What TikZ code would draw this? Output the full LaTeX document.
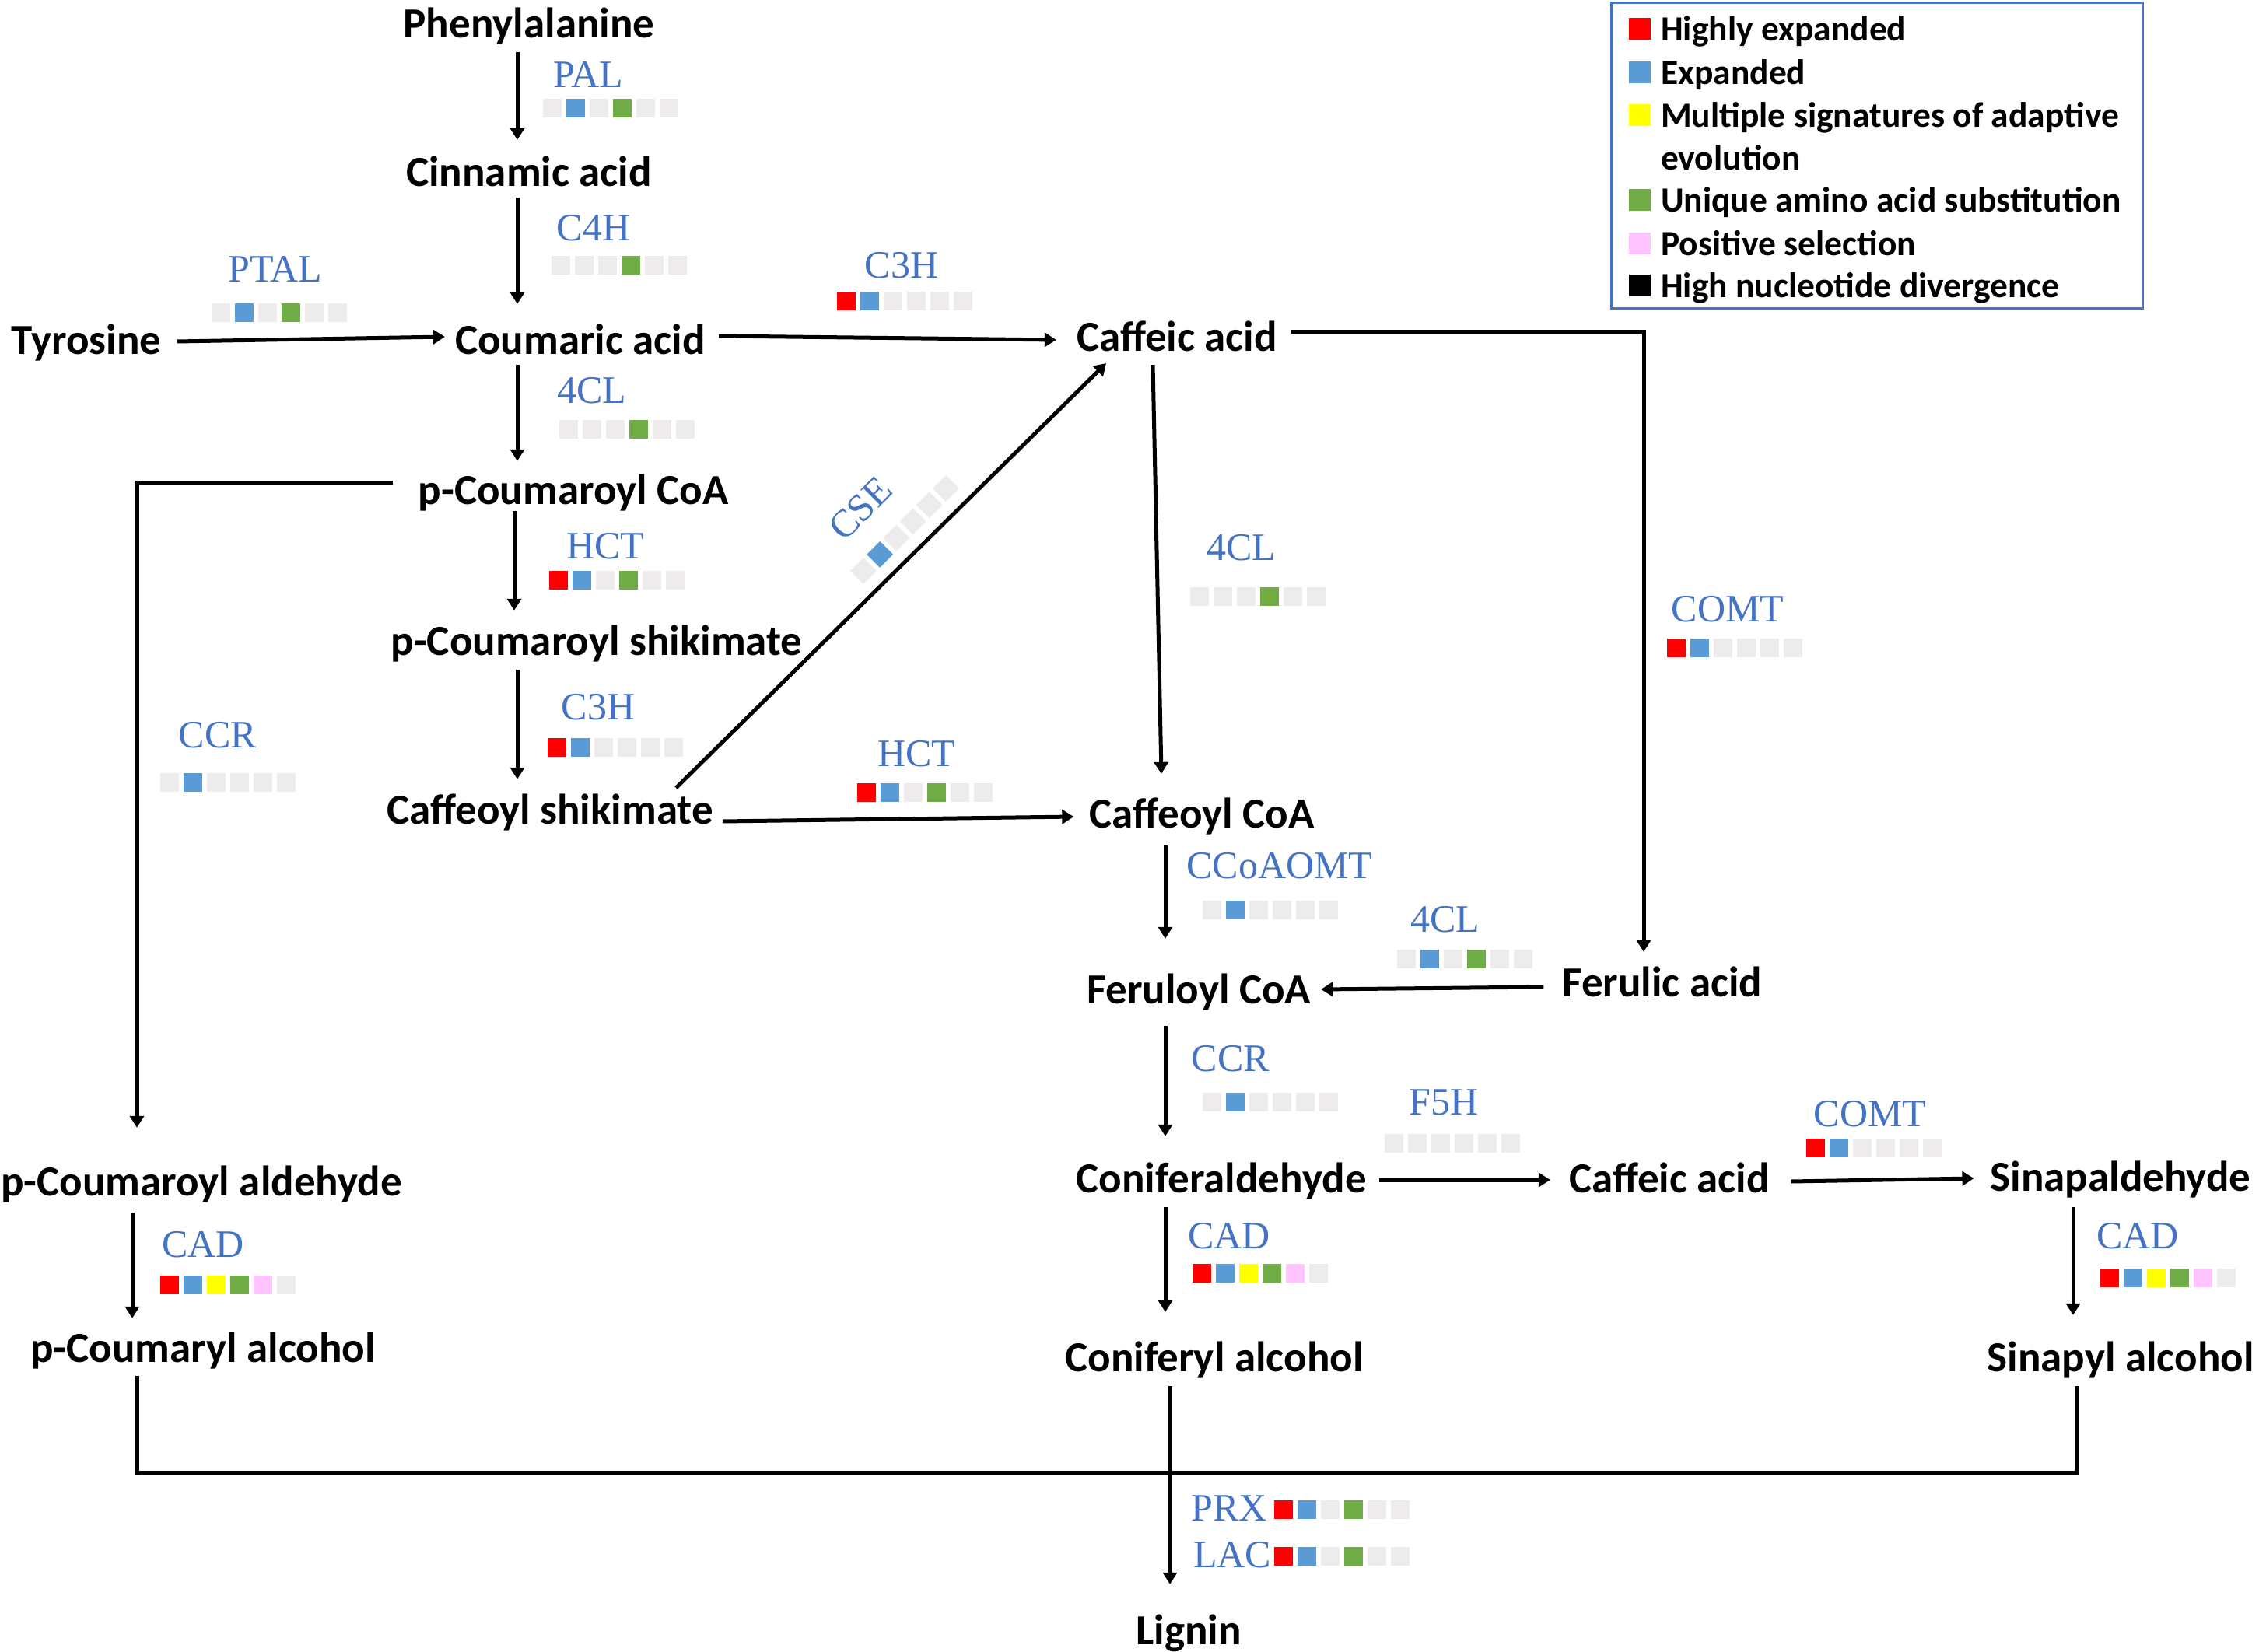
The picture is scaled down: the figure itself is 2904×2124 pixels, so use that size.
\documentclass[tikz,border=0pt]{standalone}
\usepackage{fontspec}
\setmainfont{Carlito}
\newfontfamily\enzfont{Liberation Serif}
\usetikzlibrary{arrows.meta}
\definecolor{cR}{HTML}{FF0000}
\definecolor{cB}{HTML}{5B9BD5}
\definecolor{cY}{HTML}{FFFF00}
\definecolor{cG}{HTML}{70AD47}
\definecolor{cP}{HTML}{FFC3FF}
\definecolor{cE}{HTML}{EDEBEB}
\definecolor{enzblue}{HTML}{4472C4}
\newcommand\brow[4][0]{\begin{scope}[shift={(#2,#3)},rotate=#1]\foreach \c [count=\i from 0] in {#4}{\fill[\c] (\i*30,-12) rectangle ++(24,24);}\end{scope}}
\tikzset{
 chem/.style={font=\fontsize{55}{60}\selectfont\bfseries, inner sep=0pt, text height=36pt, text depth=0pt},
 enz/.style={font=\enzfont\fontsize{50}{55}\selectfont, text=enzblue, inner sep=0pt},
 legtxt/.style={font=\fontsize{45.5}{50}\selectfont\bfseries, inner sep=0pt, text height=31pt, text depth=0pt, anchor=west},
 arr/.style={line width=5pt, -{Triangle[length=15pt,width=18pt]}},
 conn/.style={line width=5pt}
}
\begin{document}
\begin{tikzpicture}[x=1pt,y=-1pt]
\fill[white] (0,0) rectangle (2904,2124);
\useasboundingbox (0,0) rectangle (2904,2124);
% compounds
\node[chem] (phe) at (680,31) {Phenylalanine};
\node[chem] (cin) at (680,222) {Cinnamic acid};
\node[chem] (tyr) at (111,437) {Tyrosine};
\node[chem] (cou) at (746,437) {Coumaric acid};
\node[chem] (caf1) at (1513,433) {Caffeic acid};
\node[chem] (pcc) at (737,630) {p-Coumaroyl CoA};
\node[chem] (pcs) at (767,824) {p-Coumaroyl shikimate};
\node[chem] (cfs) at (707,1041) {Caffeoyl shikimate};
\node[chem] (cfc) at (1545,1046) {Caffeoyl CoA};
\node[chem] (fco) at (1541,1272) {Feruloyl CoA};
\node[chem] (fer) at (2137,1263) {Ferulic acid};
\node[chem] (pca) at (259,1519) {p-Coumaroyl aldehyde};
\node[chem] (con) at (1570,1515) {Coniferaldehyde};
\node[chem] (caf2) at (2146,1515) {Caffeic acid};
\node[chem] (sin) at (2726,1513) {Sinapaldehyde};
\node[chem] (pcal) at (261,1733) {p-Coumaryl alcohol};
\node[chem] (coal) at (1561,1745) {Coniferyl alcohol};
\node[chem] (sial) at (2726,1745) {Sinapyl alcohol};
\node[chem] (lig) at (1528,2096) {Lignin};
% arrows
\draw[arr] ([xshift=-15pt,yshift=-18pt]phe.south) -- ([xshift=-15pt,yshift=24pt]cin.north);
\draw[arr] ([xshift=-15pt,yshift=-14pt]cin.south) -- ([xshift=-81pt,yshift=28pt]cou.north);
\draw[arr] ([xshift=20pt,yshift=-2pt]tyr.east) -- ([xshift=-13pt,yshift=4pt]cou.west);
\draw[arr] ([xshift=17pt,yshift=5pt]cou.east) -- ([xshift=-26pt,yshift=-4pt]caf1.west);
\draw[arr] ([xshift=-81pt,yshift=-14pt]cou.south) -- ([xshift=-72pt,yshift=19pt]pcc.north);
\draw[arr] ([xshift=-76pt,yshift=-9pt]pcc.south) -- ([xshift=-106pt,yshift=21pt]pcs.north);
\draw[arr] ([xshift=-102pt,yshift=-19pt]pcs.south) -- ([xshift=-42pt,yshift=21pt]cfs.north);
\draw[arr] ([xshift=162pt,yshift=28pt]cfs.center) -- ([xshift=-91pt,yshift=-34pt]caf1.center);
\draw[arr] ([xshift=12pt,yshift=-15pt]cfs.east) -- ([xshift=-20pt,yshift=-4pt]cfc.west);
\draw[arr] ([xshift=-31pt,yshift=-18pt]caf1.south) -- ([xshift=-52pt,yshift=33pt]cfc.north);
\draw[arr] ([xshift=18pt,yshift=7pt]caf1.east) -| ([xshift=-24pt,yshift=21pt]fer.north);
\draw[arr] ([xshift=-47pt,yshift=-23pt]cfc.south) -- ([xshift=-43pt,yshift=47pt]fco.north);
\draw[arr] ([xshift=-24pt,yshift=-6pt]fer.west) -- ([xshift=13pt]fco.east);
\draw[arr] ([xshift=-43pt,yshift=-29pt]fco.south) -- ([xshift=-72pt,yshift=36pt]con.north);
\draw[arr] ([xshift=16pt,yshift=-2pt]con.east) -- ([xshift=-24pt,yshift=-2pt]caf2.west);
\draw[arr] ([xshift=27pt,yshift=-4pt]caf2.east) -- ([xshift=-21pt,yshift=-2pt]sin.west);
\draw[arr] ([xshift=-61pt,yshift=-21pt]sin.south) -- ([xshift=-61pt,yshift=36pt]sial.north);
\draw[arr] ([xshift=-72pt,yshift=-19pt]con.south) -- ([xshift=-63pt,yshift=40pt]coal.north);
\draw[arr] ([xshift=-89pt,yshift=-22pt]pca.south) -- ([xshift=-91pt,yshift=20pt]pcal.north);
\draw[arr] ([xshift=-33pt,yshift=10pt]pcc.west) -| ([xshift=-83pt,yshift=51pt]pca.north);
\draw[conn] ([xshift=-85pt,yshift=-18pt]pcal.south) -- ++(0,124) -| ([xshift=-57pt,yshift=-19pt]sial.south);
\draw[arr] ([xshift=-57pt,yshift=-19pt]coal.south) -- ([xshift=-24pt,yshift=41pt]lig.north);
% enzymes
\node[enz] (ePAL) at (756,96) {PAL}; \brow{698}{139}{cE,cB,cE,cG,cE,cE}
\node[enz] (eC4H) at (763,293) {C4H}; \brow{709}{341}{cE,cE,cE,cG,cE,cE}
\node[enz] (ePTAL) at (354,346) {PTAL}; \brow{272}{402}{cE,cB,cE,cG,cE,cE}
\node[enz] (eC3Ha) at (1159,341) {C3H}; \brow{1076}{387}{cR,cB,cE,cE,cE,cE}
\node[enz] (e4CLa) at (761,502) {4CL}; \brow{719}{552}{cE,cE,cE,cG,cE,cE}
\node[enz,rotate=45] (eCSE) at (1106,654) {CSE}; \brow[45]{1101.5}{742.5}{cE,cB,cE,cE,cE,cE}
\node[enz] (eHCTa) at (778,702) {HCT}; \brow{706}{746}{cR,cB,cE,cG,cE,cE}
\node[enz] (eC3Hb) at (769,909) {C3H}; \brow{704}{961}{cR,cB,cE,cE,cE,cE}
\node[enz] (eCCRa) at (280,945) {CCR}; \brow{206}{1006}{cE,cB,cE,cE,cE,cE}
\node[enz] (eHCTb) at (1178,969) {HCT}; \brow{1102}{1019}{cR,cB,cE,cG,cE,cE}
\node[enz] (e4CLb) at (1596,704) {4CL}; \brow{1530}{767}{cE,cE,cE,cG,cE,cE}
\node[enz] (eCOMTa) at (2221,783) {COMT}; \brow{2143}{833}{cR,cB,cE,cE,cE,cE}
\node[enz] (eCCo) at (1645,1113) {CCoAOMT}; \brow{1546}{1170}{cE,cB,cE,cE,cE,cE}
\node[enz] (e4CLc) at (1858,1182) {4CL}; \brow{1796}{1233}{cE,cB,cE,cG,cE,cE}
\node[enz] (eCCRb) at (1582,1361) {CCR}; \brow{1546}{1417}{cE,cB,cE,cE,cE,cE}
\node[enz] (eF5H) at (1856,1417) {F5H}; \brow{1780}{1470}{cE,cE,cE,cE,cE,cE}
\node[enz] (eCOMTb) at (2404,1432) {COMT}; \brow{2322}{1476}{cR,cB,cE,cE,cE,cE}
\node[enz] (eCADa) at (261,1600) {CAD}; \brow{206}{1652}{cR,cB,cY,cG,cP,cE}
\node[enz] (eCADb) at (1580,1589) {CAD}; \brow{1533}{1637}{cR,cB,cY,cG,cP,cE}
\node[enz] (eCADc) at (2748,1589) {CAD}; \brow{2700}{1643}{cR,cB,cY,cG,cP,cE}
\node[enz] (ePRX) at (1580,1939) {PRX}; \brow{1638}{1941}{cR,cB,cE,cG,cE,cE}
\node[enz] (eLAC) at (1584,1999) {LAC}; \brow{1638}{2001}{cR,cB,cE,cG,cE,cE}
% legend
\node[draw=enzblue, line width=3pt, minimum width=683pt, minimum height=392pt, inner sep=0pt] (legend) at (2412.5,200) {};
\foreach \c/\yy in {cR/37,cB/93,cY/148,cG/257,cP/313,black/367}{\fill[\c] (2094,\yy-14) rectangle ++(28,28);}
\node[legtxt] (l1) at (2135,37) {Highly expanded};
\node[legtxt] (l2) at (2135,93) {Expanded};
\node[legtxt] (l3) at (2135,148) {Multiple signatures of adaptive};
\node[legtxt] (l3b) at (2135,203) {evolution};
\node[legtxt] (l4) at (2135,257) {Unique amino acid substitution};
\node[legtxt] (l5) at (2135,313) {Positive selection};
\node[legtxt] (l6) at (2135,367) {High nucleotide divergence};
\end{tikzpicture}
\end{document}
